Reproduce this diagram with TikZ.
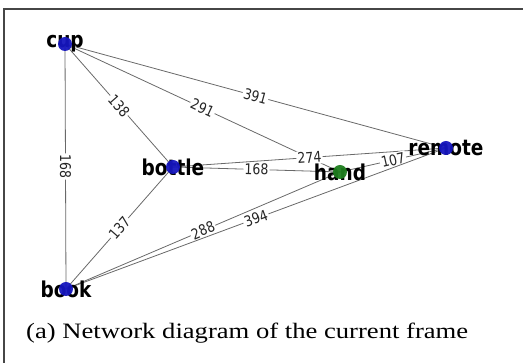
\documentclass[tikz,border=0pt]{standalone}
\usepackage{fontspec}
\setmainfont{Liberation Serif}
\newfontfamily\graphfont{DejaVu Sans}
\definecolor{nodeblue}{RGB}{22,22,190}
\definecolor{nodegreen}{RGB}{30,125,30}
\definecolor{edgegray}{RGB}{105,105,105}
\definecolor{framegray}{RGB}{70,70,70}
% glyphs of the graph are set slightly taller than wide
\newcommand\tallglyphs[1]{\scalebox{1}[1.18]{#1}}
\tikzset{
  link/.style={draw=edgegray, line width=0.8pt},
  weight/.style={sloped, pos=0.5, fill=white, inner sep=1.3pt,
    text=black!85, font=\graphfont\fontsize{12.5}{13}\selectfont},
  vlabel/.style={inner sep=0pt, text=black,
    font=\graphfont\bfseries\fontsize{18.5}{19}\selectfont},
  vdot/.style={fill=#1, opacity=0.95},
}
\begin{document}
\begin{tikzpicture}[x=1pt, y=-1pt]
\useasboundingbox (0,0) rectangle (523,363);
% partial frame around the figure
\draw[framegray, line width=1.4pt] (4,363) -- (4,9) -- (523,9);

% vertex positions
\coordinate (cup)    at (65,44);
\coordinate (bottle) at (173,167);
\coordinate (hand)   at (340,172);
\coordinate (remote) at (446,148);
\coordinate (book)   at (66,289);

% weighted edges
\draw[link] (cup) -- node[weight]{\tallglyphs{168}} (book);
\draw[link] (cup) -- node[weight]{\tallglyphs{138}} (bottle);
\draw[link] (cup) -- node[weight]{\tallglyphs{291}} (hand);
\draw[link] (cup) -- node[weight]{\tallglyphs{391}} (remote);
\draw[link] (bottle) -- node[weight]{\tallglyphs{168}} (hand);
\draw[link] (bottle) -- node[weight]{\tallglyphs{274}} (remote);
\draw[link] (hand) -- node[weight]{\tallglyphs{107}} (remote);
\draw[link] (book) -- node[weight]{\tallglyphs{137}} (bottle);
\draw[link] (book) -- node[weight]{\tallglyphs{288}} (hand);
\draw[link] (book) -- node[weight]{\tallglyphs{394}} (remote);

% vertex names
\node[vlabel] (cupname)    at (cup)    {\tallglyphs{cup}};
\node[vlabel] (bottlename) at (bottle) {\tallglyphs{bottle}};
\node[vlabel] (handname)   at (hand)   {\tallglyphs{hand}};
\node[vlabel] (remotename) at (remote) {\tallglyphs{remote}};
\node[vlabel] (bookname)   at (book)   {\tallglyphs{book}};

% vertex markers
\fill[vdot=nodeblue]  (cup)    circle (7);
\fill[vdot=nodeblue]  (bottle) circle (7);
\fill[vdot=nodegreen] (hand)   circle (7);
\fill[vdot=nodeblue]  (remote) circle (7);
\fill[vdot=nodeblue]  (book)   circle (7);

% caption
\node[anchor=base west, inner sep=0pt, font=\fontsize{22}{25}\selectfont]
  (caption) at (26,339) {\scalebox{1.21}[1]{(a) Network diagram of the current frame}};
\end{tikzpicture}
\end{document}
